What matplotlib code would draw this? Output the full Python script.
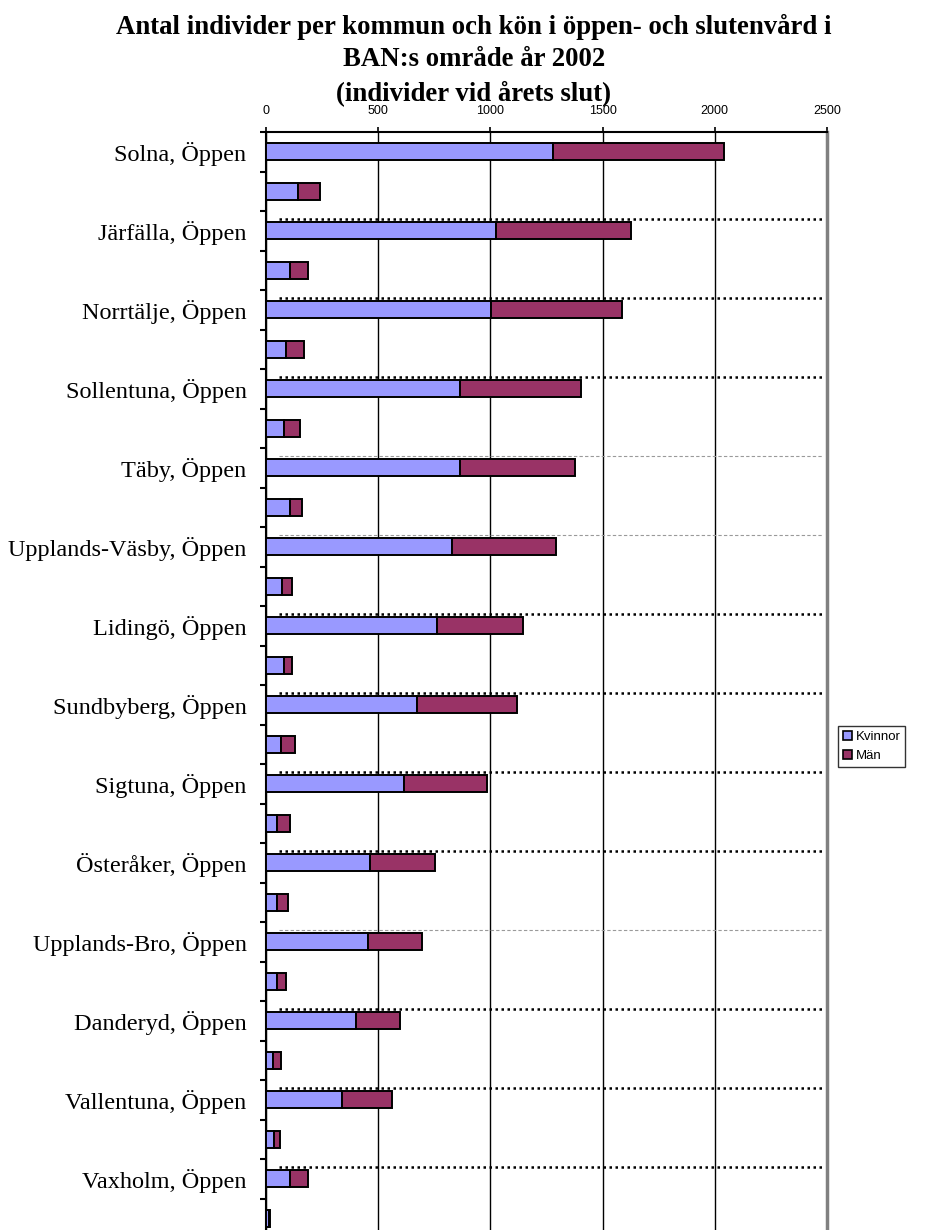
import matplotlib
matplotlib.use("Agg")
import matplotlib.pyplot as plt
import numpy as np

# Municipalities in BAN's area, 2002 (individuals at year end)
kommuner = ["Solna", "Järfälla", "Norrtälje", "Sollentuna", "Täby",
            "Upplands-Väsby", "Lidingö", "Sundbyberg", "Sigtuna",
            "Österåker", "Upplands-Bro", "Danderyd", "Vallentuna", "Vaxholm"]

oppen_kvinnor = [1277, 1025, 1001, 866, 866, 830, 760, 671, 616, 463, 455, 400, 337, 108]
oppen_man     = [762, 602, 587, 536, 510, 464, 384, 448, 369, 288, 242, 199, 226, 80]
sluten_kvinnor = [142, 108, 87, 80, 106, 70, 82, 69, 51, 51, 49, 33, 34, 12]
sluten_man     = [99, 80, 84, 72, 56, 46, 34, 62, 55, 46, 38, 36, 29, 8]

# Dotted guide lines drawn above the "Öppen" bars: "heavy" or "light"
guide_style = [None, "heavy", "heavy", "heavy", "light", "light", "heavy",
               "heavy", "heavy", "heavy", "light", "heavy", "heavy", "heavy"]

x_ticks = [0, 500, 1000, 1500, 2000, 2500]
serie_namn = ["Kvinnor", "Män"]
farger = ["#9999FF", "#993366"]

# Interleave: "<kommun>, Öppen" followed by its (unlabelled) sluten row
kat_labels, kvinnor, man = [], [], []
for k, ok, om, sk, sm in zip(kommuner, oppen_kvinnor, oppen_man, sluten_kvinnor, sluten_man):
    kat_labels += [f"{k}, Öppen", ""]
    kvinnor += [ok, sk]
    man += [om, sm]
kvinnor = np.array(kvinnor)
man = np.array(man)
n = len(kat_labels)
y = np.arange(n)

W, H = 934, 1230
fig = plt.figure(figsize=(W / 100, H / 100), dpi=100)
fig.patch.set_facecolor("white")

ax_left, ax_right, ax_top, ax_bottom = 266, 827, 132, 1238
ax = fig.add_axes([ax_left / W, 1 - ax_bottom / H,
                   (ax_right - ax_left) / W, (ax_bottom - ax_top) / H])

bar_h = 0.42
ax.barh(y, kvinnor, height=bar_h, color=farger[0], edgecolor="black",
        linewidth=1.4, label=serie_namn[0], zorder=3)
ax.barh(y, man, left=kvinnor, height=bar_h, color=farger[1], edgecolor="black",
        linewidth=1.4, label=serie_namn[1], zorder=3)

# Dotted guide lines
for i, style in enumerate(guide_style):
    if style is None:
        continue
    yy = 2 * i - bar_h / 2 - 0.08
    if style == "heavy":
        ax.hlines(yy, 60, 2480, colors="black", linewidth=1.8,
                  linestyles=(0, (1.0, 1.4)), zorder=4)
    else:
        ax.hlines(yy, 60, 2480, colors="#9a9a9a", linewidth=0.8,
                  linestyles=(0, (3, 2)), zorder=4)

ax.set_xlim(x_ticks[0], x_ticks[-1])
ax.set_ylim(n - 0.5, -0.5)

# x axis on top
ax.xaxis.tick_top()
ax.set_xticks(x_ticks)
ax.set_xticklabels([str(t) for t in x_ticks], family="Liberation Sans", fontsize=9)
ax.tick_params(axis="x", which="major", direction="out", length=3.5, width=1.2,
               pad=7, top=True, bottom=False, colors="black")
ax.xaxis.grid(True, color="black", linewidth=1.0)
ax.yaxis.grid(False)
ax.set_axisbelow(True)

# y axis: labels at category centres, tick marks at category boundaries
ax.set_yticks(y[::2])
ax.set_yticklabels(kat_labels[::2], family="Liberation Serif", fontsize=17.5)
ax.set_yticks(np.arange(n + 1) - 0.5, minor=True)
ax.tick_params(axis="y", which="major", length=0, pad=14)
ax.tick_params(axis="y", which="minor", direction="out", length=4, width=1.5)

for side in ("left", "top"):
    ax.spines[side].set_color("black")
    ax.spines[side].set_linewidth(1.5)
ax.spines["right"].set_color("#808080")
ax.spines["right"].set_linewidth(2.5)
ax.spines["bottom"].set_visible(False)

# Title
fig.text(474 / W, 1 - 14 / H,
         "Antal individer per kommun och kön i öppen- och slutenvård i\n"
         "BAN:s område år 2002\n(individer vid årets slut)",
         ha="center", va="top", family="Liberation Serif", fontweight="bold",
         fontsize=19.3, linespacing=1.38)

# Legend
leg = fig.legend(loc="upper left", bbox_to_anchor=(838 / W, 1 - 726 / H),
                 prop={"family": "Liberation Sans", "size": 9.5},
                 frameon=True, fancybox=False, shadow=False,
                 handlelength=0.7, handleheight=0.7, handletextpad=0.3,
                 labelspacing=0.55, borderpad=0.35, borderaxespad=0)
leg.get_frame().set_edgecolor("black")
leg.get_frame().set_linewidth(1.0)
for p in leg.get_patches():
    p.set_edgecolor("black")
    p.set_linewidth(1.2)

fig.savefig("out.png", dpi=100)
